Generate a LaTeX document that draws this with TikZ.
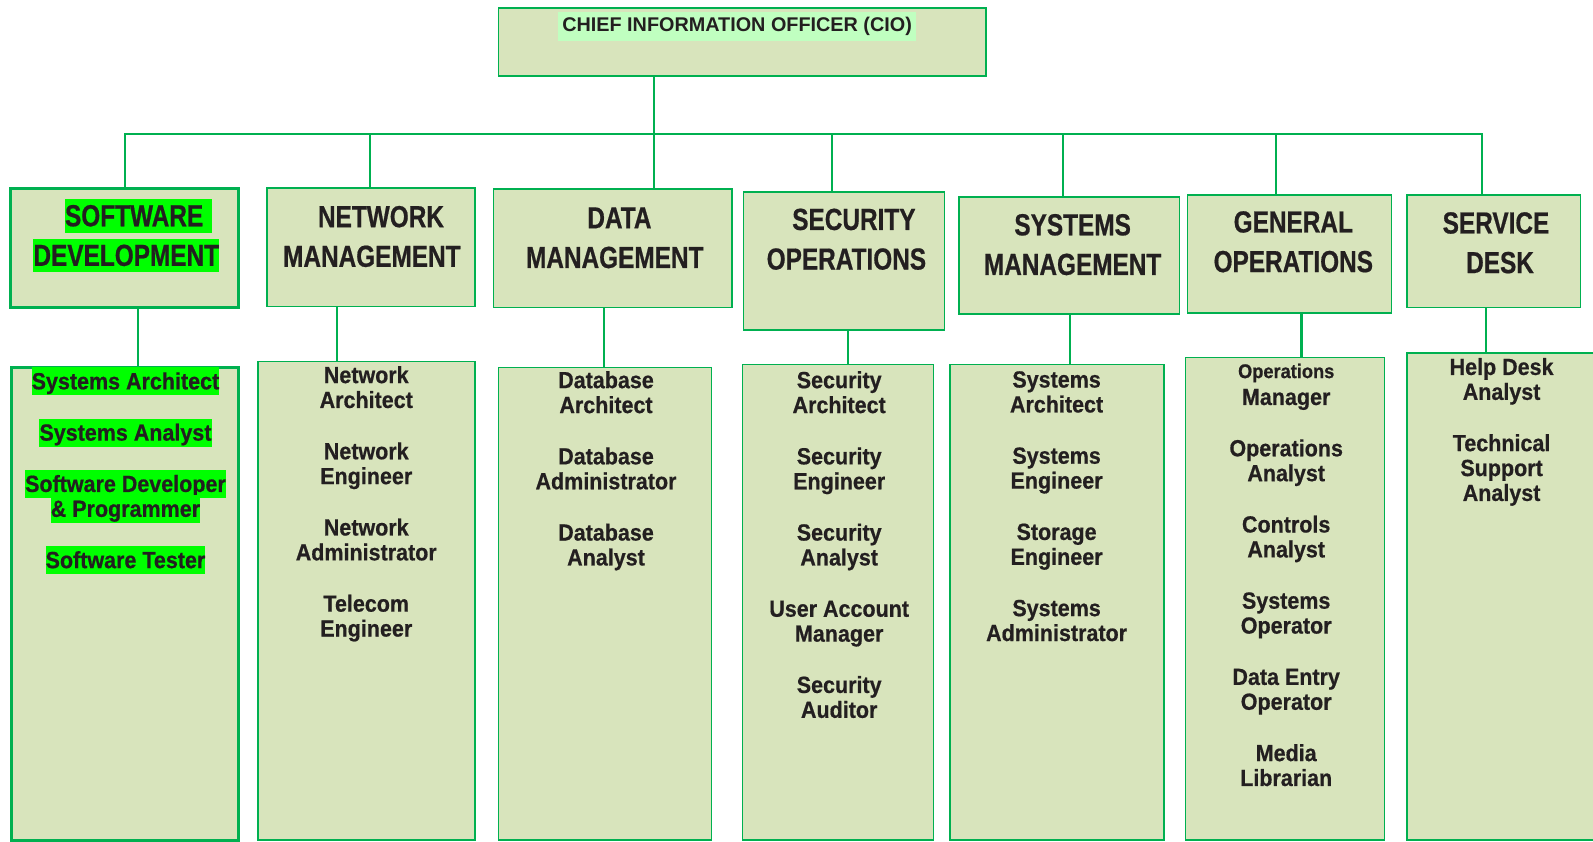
\documentclass[tikz,border=0pt]{standalone}
\usepackage{fontspec}
\setmainfont{Liberation Sans}
\newfontfamily\headfont{Liberation Sans}[FakeStretch=0.8, FakeBold=0.6]
\newfontfamily\jobfont{Liberation Sans}[FakeStretch=0.92, FakeBold=0.6]

\definecolor{boxfill}{HTML}{D8E4BC}
\definecolor{boxline}{HTML}{00B050}
\definecolor{brightgreen}{HTML}{00FF00}
\definecolor{paleground}{HTML}{C0FFC0}
\definecolor{inkblack}{HTML}{231F20}

% green marker behind a heading line / a role line
\newcommand{\hihead}[1]{{\setlength{\fboxsep}{0pt}\colorbox{brightgreen}{\rule[-6.5pt]{0pt}{33pt}#1}}}
\newcommand{\hijob}[1]{{\setlength{\fboxsep}{0pt}\colorbox{brightgreen}{\rule[-6pt]{0pt}{27.5pt}#1}}}
\newcommand{\nudge}[2]{\hspace*{#1}#2\hspace*{-#1}}
\newcommand{\itemgap}{\\[26pt]}
\newcommand{\tightlines}{\lineskiplimit=-100pt\relax}

\begin{document}
\begin{tikzpicture}[x=1pt, y=-1pt,
	unit/.style={draw=boxline, fill=boxfill, line width=1.6pt, inner sep=0pt, anchor=north west},
	keyunit/.style={unit, line width=3pt},
	title/.style={text=inkblack, inner sep=0pt, align=center, font=\headfont\bfseries\fontsize{30}{39}\selectfont},
	roles/.style={text=inkblack, inner sep=0pt, align=center, anchor=north, font=\jobfont\bfseries\fontsize{23}{24.5}\selectfont\tightlines},
	link/.style={draw=boxline, line width=2.2pt}]
	\useasboundingbox (0,0) rectangle (1568,828);
	\clip (0,0) rectangle (1568,828);

	% top
	\node[unit, minimum width=480pt, minimum height=67pt] (cio) at (490,7) {};

	% departments
	\node[keyunit, minimum width=224pt, minimum height=117pt] (sw) at (9,184) {};
	\node[unit, minimum width=204.5pt, minimum height=117pt] (net) at (262,184) {};
	\node[unit, minimum width=235pt, minimum height=117pt] (data) at (485,185) {};
	\node[unit, minimum width=198pt, minimum height=136pt] (sec) at (731,188) {};
	\node[unit, minimum width=217pt, minimum height=115pt] (sys) at (943,193) {};
	\node[unit, minimum width=201pt, minimum height=116pt] (gen) at (1168,191) {};
	\node[unit, minimum width=171pt, minimum height=111pt] (svc) at (1384,191) {};

	% role boxes
	\node[keyunit, minimum width=223pt, minimum height=466pt] (jobs-sw) at (10,360) {};
	\node[unit, minimum width=213.5pt, minimum height=471pt] (jobs-net) at (253,355) {};
	\node[unit, minimum width=209.5pt, minimum height=465pt] (jobs-data) at (490,361) {};
	\node[unit, minimum width=188pt, minimum height=468pt] (jobs-sec) at (730,358) {};
	\node[unit, minimum width=211pt, minimum height=468pt] (jobs-sys) at (934,358) {};
	\node[unit, minimum width=196pt, minimum height=475pt] (jobs-gen) at (1166,351) {};
	\node[unit, minimum width=200pt, minimum height=479.5pt] (jobs-svc) at (1384,346.5) {};

	% texts
	\node[text=inkblack, inner sep=0pt, inner xsep=4pt, fill=paleground, text height=19.7pt, text depth=8.8pt,
		anchor=base, font=\bfseries\fontsize{19.5}{22}\selectfont] (cio-title) at (725.5,31.2) {CHIEF INFORMATION OFFICER (CIO)};

	\node[title] (sw-title) at (130.4,232.2) {\nudge{6.1pt}{\hihead{SOFTWARE\hspace{9pt}}}\\\nudge{-6.1pt}{\hihead{DEVELOPMENT}}};
	\node[title] (net-title) at (370.5,232.8) {\nudge{4.5pt}{NETWORK}\\\nudge{-4.5pt}{MANAGEMENT}};
	\node[title] (data-title) at (607.4,234.1) {\nudge{2.3pt}{DATA}\\\nudge{-2.3pt}{MANAGEMENT}};
	\node[title] (sec-title) at (836.8,235.5) {\nudge{3.7pt}{SECURITY}\\\nudge{-3.7pt}{OPERATIONS}};
	\node[title] (sys-title) at (1055.8,240.8) {SYSTEMS\\MANAGEMENT};
	\node[title] (gen-title) at (1273,238) {GENERAL\\OPERATIONS};
	\node[title] (svc-title) at (1474.5,239) {\nudge{-2pt}{SERVICE}\\\nudge{2pt}{DESK}};

	\node[roles] (sw-list) at (123.5,361.5) {\hijob{Systems Architect}\itemgap \hijob{Systems Analyst}\itemgap
		\hijob{Software Developer}\\ \hijob{\& Programmer}\itemgap \hijob{Software Tester}};
	\node[roles] (net-list) at (360.5,360.2) {Network\\ Architect\itemgap Network\\ Engineer\itemgap
		Network\\ Administrator\itemgap Telecom\\ Engineer};
	\node[roles] (data-list) at (596.5,365.2) {Database\\ Architect\itemgap Database\\ Administrator\itemgap
		Database\\ Analyst};
	\node[roles] (sec-list) at (826,365.2) {Security\\ Architect\itemgap Security\\ Engineer\itemgap
		Security\\ Analyst\itemgap User Account\\ Manager\itemgap Security\\ Auditor};
	\node[roles] (sys-list) at (1040,365.2) {Systems\\ Architect\itemgap Systems\\ Engineer\itemgap
		Storage\\ Engineer\itemgap Systems\\ Administrator};
	\node[roles] (gen-list) at (1266,357.8) {{\fontsize{19.5}{24.5}\selectfont Operations}\\[2pt] Manager\itemgap
		Operations\\ Analyst\itemgap Controls\\ Analyst\itemgap Systems\\ Operator\itemgap
		Data Entry\\ Operator\itemgap Media\\ Librarian};
	\node[roles] (svc-list) at (1478,352.2) {Help Desk\\ Analyst\itemgap Technical\\ Support\\ Analyst};

	% bus and drops
	\foreach \name/\x in {sw/123, net/364, data/644, sec/819, sys/1046, gen/1256, svc/1459} {
		\coordinate (bus-\name) at (\x,132);
		\draw[link] (bus-\name) -- (bus-\name |- \name.north);
	}
	\draw[link, line cap=rect] (bus-sw) -- (bus-svc);
	\draw[link] (cio.south -| bus-data) -- (bus-data);

	% department to roles
	\foreach \name/\x in {sw/135.5, net/332, data/594.5, sec/835, sys/1053, gen/1281, svc/1463} {
		\coordinate (tap-\name) at (\x,0);
		\draw[link] (\name.south -| tap-\name) -- (jobs-\name.north -| tap-\name);
	}
\end{tikzpicture}
\end{document}
